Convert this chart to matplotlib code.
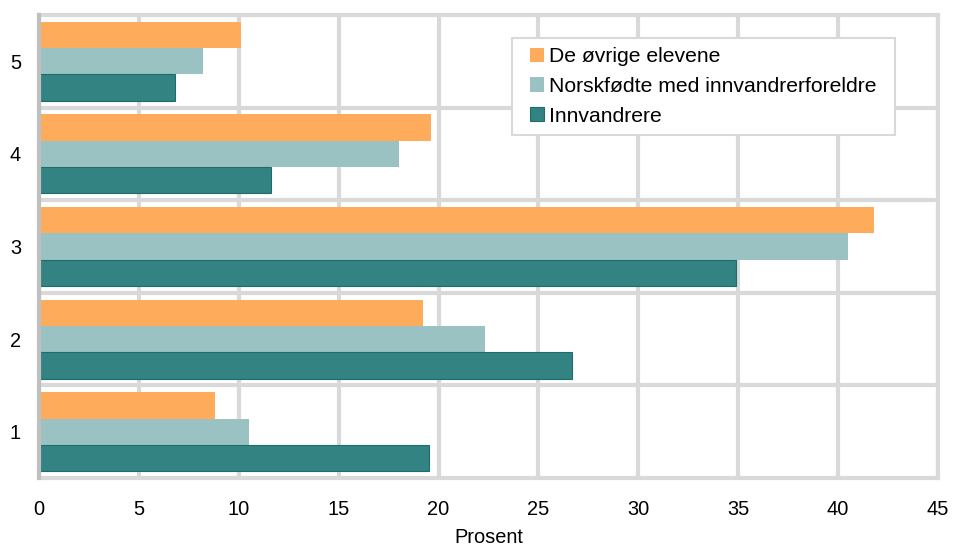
import matplotlib.pyplot as plt
from matplotlib.patches import Rectangle
import numpy as np

plt.rcParams['font.family'] = ['Liberation Sans', 'DejaVu Sans']

# data
kategorier = ['1', '2', '3', '4', '5']
ovrige = [8.8, 19.2, 41.8, 19.6, 10.1]
norskfodte = [10.5, 22.3, 40.5, 18.0, 8.2]
innvandrere = [19.5, 26.7, 34.9, 11.6, 6.8]

W, H = 957, 545
fig = plt.figure(figsize=(W/100, H/100), dpi=100)
ax = fig.add_axes([39/W, 1 - 478/H, (938-39)/W, (478-15)/H])

y = np.arange(1, len(kategorier) + 1)
h = 0.285
ax.barh(y + h, ovrige, height=h, color='#ffab5c', label='De øvrige elevene', zorder=3)
ax.barh(y, norskfodte, height=h, color='#9bc2c2', label='Norskfødte med innvandrerforeldre', zorder=3)
ax.barh(y - h, innvandrere, height=h, color='#338383', edgecolor='#1d6d6d', linewidth=0.8,
        label='Innvandrere', zorder=3)

ax.set_xlim(0, 45)
ax.set_ylim(0.5, 5.5)
ax.set_xticks(np.arange(0, 46, 5))
ax.set_yticks(y)
ax.set_yticklabels(kategorier)
ax.set_yticks(np.arange(1.5, 5.5, 1), minor=True)
ax.tick_params(axis='both', which='both', length=0, labelsize=14.4)
ax.tick_params(axis='x', pad=16)
ax.tick_params(axis='y', pad=13)

ax.grid(axis='x', color='#d9d9d9', linewidth=3, zorder=0)
ax.grid(axis='y', which='minor', color='#d9d9d9', linewidth=3, zorder=0)

for side in ['top', 'right', 'bottom']:
    ax.spines[side].set_color('#d9d9d9')
    ax.spines[side].set_linewidth(3)
ax.spines['left'].set_color('#bfbfbf')
ax.spines['left'].set_linewidth(3)
ax.spines['left'].set_zorder(4)

ax.set_xlabel('Prosent', fontsize=14.4, labelpad=6)

# legend without its own frame; a wider box is drawn around it afterwards
leg = ax.legend(loc='upper left', bbox_to_anchor=(520.5/W, 1 - 38/H), bbox_transform=fig.transFigure,
                fontsize=15.2, frameon=False, handlelength=0.67, handleheight=0.67,
                handletextpad=0.25, labelspacing=0.5, borderpad=0.45, borderaxespad=0)
leg.set_zorder(6)
fig.canvas.draw()
bb = leg.get_window_extent().transformed(fig.transFigure.inverted())
padx = 8.5 / W
box = Rectangle((bb.x0 - padx, bb.y0), bb.width + 2*padx, bb.height, transform=fig.transFigure,
                facecolor='white', edgecolor='#d9d9d9', linewidth=1.5, zorder=5)
fig.add_artist(box)
fig.add_artist(leg)

fig.savefig('out.png', dpi=100)
